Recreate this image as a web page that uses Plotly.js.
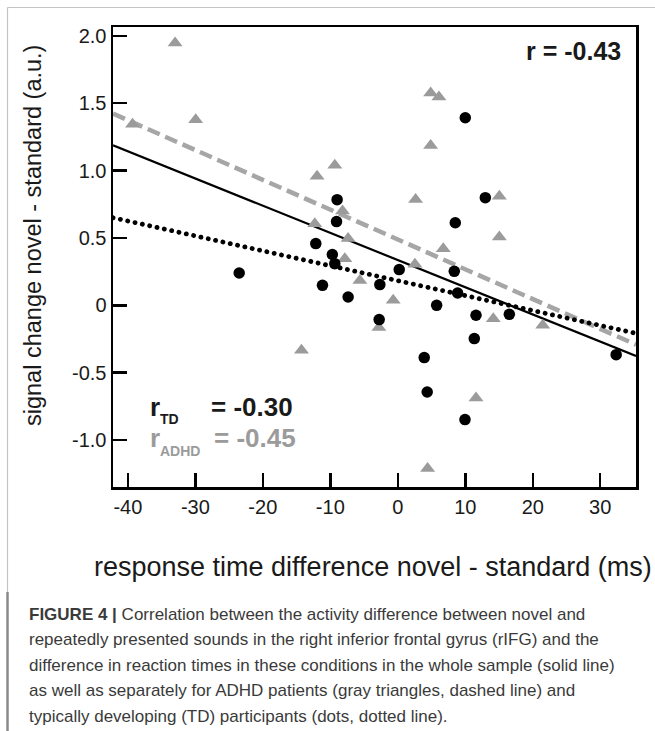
<!DOCTYPE html>
<html>
<head>
<meta charset="utf-8">
<script src="https://cdn.plot.ly/plotly-3.0.1.min.js"></script>
<style>
  html, body { margin: 0; padding: 0; background: #fff; }
  #chart { width: 655px; height: 731px; }
  .scatterlayer g.trace:nth-child(3) path.js-line { stroke-linecap: round; }
</style>
</head>
<body>
<div id="chart"></div>
<script>
// ---- data ----
const adhdX = [-39.3, -33.0, -29.95, -14.27, -12.3, -11.96, -9.33, -8.19, -7.85, -7.36, -5.62, -2.8, -0.68, 2.54, 2.64, 4.42, 4.87, 4.87, 6.1, 6.74, 11.59, 14.15, 15.05, 15.05, 21.48];
const adhdY = [1.343, 1.946, 1.377, -0.334, 0.606, 0.957, 1.039, 0.70, 0.346, 0.495, 0.185, -0.165, 0.037, 0.304, 0.786, -1.211, 1.575, 1.185, 1.545, 0.42, -0.688, -0.099, 0.809, 0.507, -0.148];

const tdX = [-23.5, -12.15, -11.16, -9.7, -9.33, -9.08, -8.99, -7.36, -2.76, -2.66, 0.21, 3.92, 4.36, 5.76, 8.37, 8.52, 8.87, 9.96, 10.0, 11.34, 11.59, 12.97, 16.53, 32.36];
const tdY = [0.240, 0.458, 0.148, 0.377, 0.309, 0.621, 0.784, 0.062, -0.106, 0.154, 0.265, -0.388, -0.643, 0.0, 0.252, 0.613, 0.091, -0.848, 1.392, -0.247, -0.074, 0.799, -0.067, -0.366];

// regression lines (end points at the axis limits)
const fitX = [-42.2, 35.3];
const fitAll = [1.187, -0.376];
const fitADHD = [1.422, -0.292];
const fitTD = [0.650, -0.208];

const xTickVals = [-40, -30, -20, -10, 0, 10, 20, 30];
const xTickText = ['-40', '-30', '-20', '-10', '0', '10', '20', '30'];
const yTickVals = [-1.0, -0.5, 0, 0.5, 1.0, 1.5, 2.0];
const yTickText = ['-1.0', '-0.5', '0', '0.5', '1.0', '1.5', '2.0'];

const rAll = 'r = -0.43';
const rTD = '= -0.30';
const rADHD = '= -0.45';
const xTitle = 'response time difference novel - standard (ms)';
const yTitle = 'signal change novel - standard (a.u.)';
const captionLines = [
  '<b>FIGURE 4 |</b> Correlation between the activity difference between novel and',
  'repeatedly presented sounds in the right inferior frontal gyrus (rIFG) and the',
  'difference in reaction times in these conditions in the whole sample (solid line)',
  'as well as separately for ADHD patients (gray triangles, dashed line) and',
  'typically developing (TD) participants (dots, dotted line).'
];

// ---- layout geometry (pixels) ----
const W = 655, H = 731;
const L = 113, R = 636, T = 27, B = 487;
const px = (x) => (x - L) / (R - L);
const py = (y) => (B - y) / (B - T);

const FONT = 'Liberation Sans, Arial, sans-serif';
const GRAY = '#9b9b9b';

const traces = [
  { x: fitX, y: fitAll, mode: 'lines', line: { color: '#000', width: 2.2 }, hoverinfo: 'skip' },
  { x: fitX, y: fitADHD, mode: 'lines', line: { color: '#a6a6a6', width: 4.5, dash: '13px,6px' }, hoverinfo: 'skip' },
  { x: fitX, y: fitTD, mode: 'lines', line: { color: '#000', width: 4.8, dash: '0.1px,7.4px' }, hoverinfo: 'skip' },
  { x: adhdX, y: adhdY, mode: 'markers', marker: { symbol: 'triangle-up', size: 13, color: GRAY, line: { width: 0 } } },
  { x: tdX, y: tdY, mode: 'markers', marker: { symbol: 'circle', size: 11.5, color: '#000', line: { width: 0 } } }
];

const annotations = [
  { text: '<b>' + rAll + '</b>', x: px(623), y: py(51), xanchor: 'right', yanchor: 'middle', font: { size: 25, color: '#1a1a1a' } },
  { text: '<b>r</b>', x: px(148), y: py(406.5), xanchor: 'left', yanchor: 'middle', font: { size: 26, color: '#1a1a1a' } },
  { text: '<b>TD</b>', x: px(158), y: py(418.5), xanchor: 'left', yanchor: 'middle', font: { size: 14, color: '#1a1a1a' } },
  { text: '<b>' + rTD + '</b>', x: px(209), y: py(406.5), xanchor: 'left', yanchor: 'middle', font: { size: 26, color: '#1a1a1a' } },
  { text: '<b>r</b>', x: px(148), y: py(437.5), xanchor: 'left', yanchor: 'middle', font: { size: 26, color: GRAY } },
  { text: '<b>ADHD</b>', x: px(158), y: py(450.5), xanchor: 'left', yanchor: 'middle', font: { size: 14, color: GRAY } },
  { text: '<b>' + rADHD + '</b>', x: px(212), y: py(437.5), xanchor: 'left', yanchor: 'middle', font: { size: 26, color: GRAY } },
  { text: yTitle, x: px(33), y: py(236), textangle: -90, xanchor: 'center', yanchor: 'middle', font: { size: 23.5, color: '#1a1a1a' } },
  { text: xTitle, x: px(373), y: py(567), xanchor: 'center', yanchor: 'middle', font: { size: 27, color: '#1a1a1a' } }
];
const capY = [614, 639.5, 665, 690.5, 716];
captionLines.forEach((t, i) => {
  annotations.push({ text: t, x: px(27), y: py(capY[i]), xanchor: 'left', yanchor: 'middle',
    font: { size: 17, color: '#3a3a3a', family: 'Liberation Sans Narrow, Liberation Sans, Arial, sans-serif' } });
});
annotations.forEach(a => { a.xref = 'paper'; a.yref = 'paper'; a.showarrow = false; if (!a.font.family) a.font.family = FONT; });

const shapes = [
  { type: 'line', xref: 'paper', yref: 'paper', x0: px(7.5), x1: px(655), y0: py(7.5), y1: py(7.5), line: { color: '#c4c4c4', width: 1.2 } },
  { type: 'line', xref: 'paper', yref: 'paper', x0: px(7.5), x1: px(7.5), y0: py(7.5), y1: py(592), line: { color: '#c4c4c4', width: 1.2 } },
  { type: 'line', xref: 'paper', yref: 'paper', x0: px(7.5), x1: px(7.5), y0: py(592), y1: py(731), line: { color: '#8a8a8a', width: 2.5 } }
];

const axisCommon = {
  showgrid: false, zeroline: false, showline: true, linecolor: '#000', linewidth: 2.5,
  mirror: true, ticks: 'inside', ticklen: 14, tickwidth: 2.5, tickcolor: '#000',
  tickfont: { family: FONT, size: 20, color: '#1a1a1a' }, fixedrange: true
};

const layout = {
  width: W, height: H,
  margin: { l: L, r: W - R, t: T, b: H - B, pad: 0 },
  paper_bgcolor: '#fff', plot_bgcolor: '#fff',
  showlegend: false,
  font: { family: FONT },
  xaxis: Object.assign({}, axisCommon, { range: [-42.2, 35.3], tickmode: 'array', tickvals: xTickVals, ticktext: xTickText }),
  yaxis: Object.assign({}, axisCommon, { range: [-1.348, 2.065], tickmode: 'array', tickvals: yTickVals, ticktext: yTickText }),
  annotations: annotations,
  shapes: shapes
};

Plotly.newPlot('chart', traces, layout, { displayModeBar: false, staticPlot: true });
</script>
</body>
</html>
